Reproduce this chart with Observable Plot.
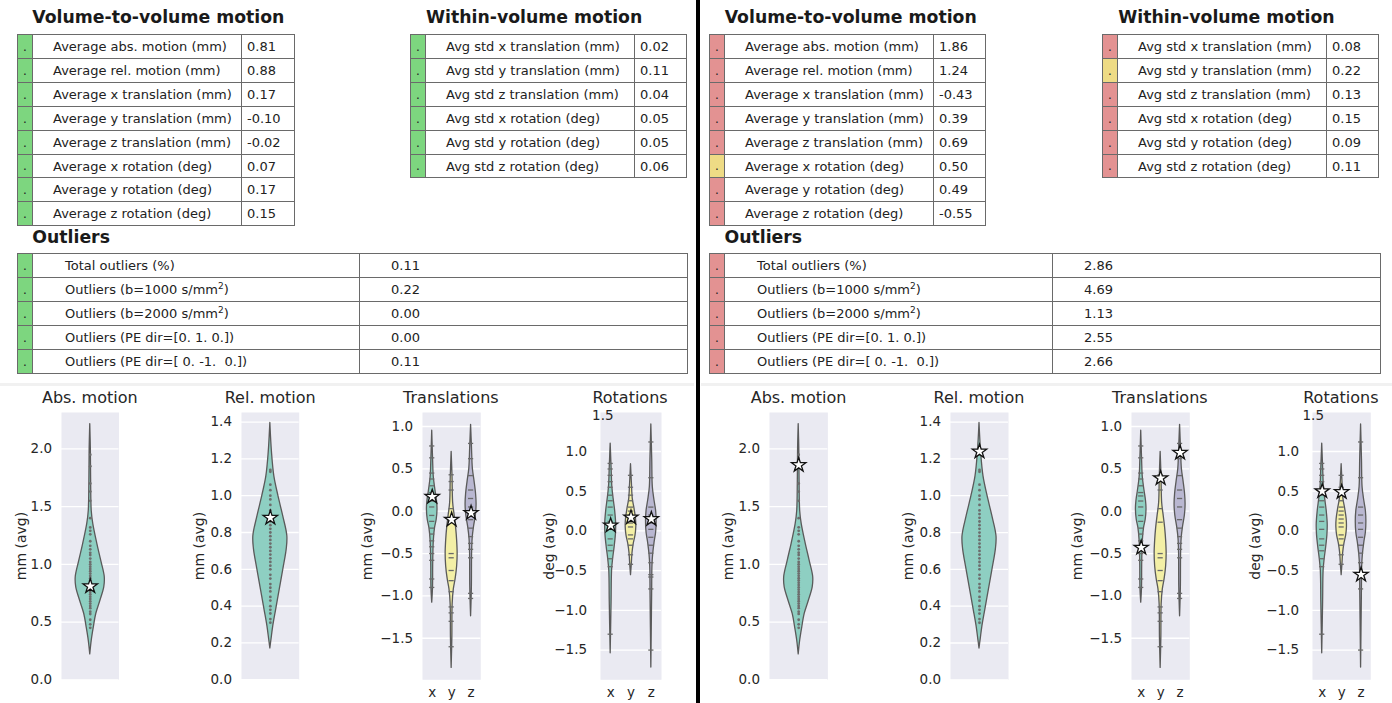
<!DOCTYPE html>
<html><head><meta charset="utf-8">
<script src="https://cdn.jsdelivr.net/npm/d3@7"></script>
<script src="https://cdn.jsdelivr.net/npm/@observablehq/plot@0.6"></script>
<style>
body{margin:0;background:#fff;font-family:"DejaVu Sans",sans-serif;color:#222}
#root{position:relative;width:1392px;height:703px;overflow:hidden;background:#fff}
.title{position:absolute;font-weight:bold;font-size:17.3px;line-height:20px;white-space:nowrap;color:#1a1a1a}
.cell{position:absolute;box-sizing:border-box;border:1px solid #6a6a6a;white-space:pre;display:flex;align-items:center;color:#222}
.cell sup{font-size:9px;vertical-align:5px;line-height:0}
.ptitle{position:absolute;font-size:16px;line-height:16px;transform:translate(-50%,-50%);white-space:nowrap;color:#262626}
.ylab{position:absolute;font-size:14px;line-height:16px;transform:translate(-50%,-50%) rotate(-90deg);white-space:nowrap;color:#262626}
.panel{position:absolute}
</style>
</head><body><div id="root"></div>
<script>
// ---------------- DATA ----------------
const volLabels = ["Average abs. motion (mm)","Average rel. motion (mm)","Average x translation (mm)","Average y translation (mm)","Average z translation (mm)","Average x rotation (deg)","Average y rotation (deg)","Average z rotation (deg)"];
const volLeft  = [0.81, 0.88, 0.17, -0.10, -0.02, 0.07, 0.17, 0.15];
const volRight = [1.86, 1.24, -0.43, 0.39, 0.69, 0.50, 0.49, -0.55];
const volFlagsLeft  = ["ok","ok","ok","ok","ok","ok","ok","ok"];
const volFlagsRight = ["bad","bad","bad","bad","bad","warn","bad","bad"];

const withinLabels = ["Avg std x translation (mm)","Avg std y translation (mm)","Avg std z translation (mm)","Avg std x rotation (deg)","Avg std y rotation (deg)","Avg std z rotation (deg)"];
const withinLeft  = [0.02, 0.11, 0.04, 0.05, 0.05, 0.06];
const withinRight = [0.08, 0.22, 0.13, 0.15, 0.09, 0.11];
const withinFlagsLeft  = ["ok","ok","ok","ok","ok","ok"];
const withinFlagsRight = ["bad","warn","bad","bad","bad","bad"];

const outlierLabels = ["Total outliers (%)","Outliers (b=1000 s/mm<sup>2</sup>)","Outliers (b=2000 s/mm<sup>2</sup>)","Outliers (PE dir=[0. 1. 0.])","Outliers (PE dir=[ 0. -1.  0.])"];
const outlierLeft  = [0.11, 0.22, 0.00, 0.00, 0.11];
const outlierRight = [2.86, 4.69, 1.13, 2.55, 2.66];
const outlierFlagsLeft  = ["ok","ok","ok","ok","ok"];
const outlierFlagsRight = ["bad","bad","bad","bad","bad"];

const axisCats = ["x","y","z"];

// violin density profiles: [value, half-width density]
const absProfile = [[2.215,0],[2.0,0.6],[1.7,0.9],[1.46,1.5],[1.35,3],[1.18,7],[1.03,11],[0.89,14.5],[0.80,14],[0.68,10],[0.57,6],[0.45,3.5],[0.34,1.5],[0.22,0]];
const relProfile = [[1.395,0],[1.23,1.7],[1.105,4],[1.0,8],[0.89,12.8],[0.78,17],[0.71,16.4],[0.60,13],[0.49,9.4],[0.38,5.8],[0.29,2.9],[0.22,1.2],[0.17,0]];
const transXProfile = [[0.95,0],[0.6,0.9],[0.4,1.6],[0.25,3.2],[0.12,4.8],[0.02,5.3],[-0.1,4.5],[-0.2,2.8],[-0.35,1.6],[-0.6,1],[-0.9,0.8],[-1.08,0]];
const transYProfile = [[0.70,0],[0.4,0.9],[0.1,1.5],[-0.05,3],[-0.2,4.5],[-0.35,5.5],[-0.5,6],[-0.65,5.5],[-0.8,4],[-0.92,2.2],[-1.1,1],[-1.5,0.7],[-1.85,0]];
const transZProfile = [[1.02,0],[0.75,0.9],[0.5,1.8],[0.35,3.5],[0.2,5],[0.08,5.5],[-0.05,4.8],[-0.18,3],[-0.32,1.6],[-0.5,1],[-0.9,0.8],[-1.24,0]];
const rotXProfile = [[1.1,0],[0.8,0.9],[0.55,1.7],[0.4,3],[0.25,4.5],[0.08,5.5],[-0.05,5.2],[-0.2,4],[-0.35,2.5],[-0.5,1.4],[-0.9,0.9],[-1.54,0]];
const rotYProfile = [[0.84,0],[0.6,0.9],[0.4,1.8],[0.28,3.5],[0.15,5],[0.05,5.3],[-0.06,4.5],[-0.16,2.8],[-0.28,1.5],[-0.42,0.8],[-0.556,0]];
const rotZProfile = [[1.34,0],[0.9,0.9],[0.55,1.5],[0.38,3.2],[0.25,4.8],[0.12,5.3],[-0.02,4.8],[-0.15,3.2],[-0.3,1.8],[-0.45,1.1],[-0.8,0.8],[-1.72,0]];

// group sample values visible inside violins
const absSamples = [0.45,0.48,0.52,0.57,0.59,0.62,0.64,0.66,0.68,0.70,0.72,0.74,0.76,0.78,0.80,0.82,0.84,0.86,0.88,0.90,0.92,0.94,0.96,0.98,1.00,1.02,1.05,1.08,1.10,1.13,1.16,1.20,1.26,1.29,1.32,1.40,1.55,1.63,1.70,1.85,1.95];
const relSamples = [0.31,0.33,0.36,0.38,0.40,0.43,0.45,0.48,0.50,0.52,0.55,0.57,0.60,0.62,0.64,0.66,0.68,0.70,0.72,0.74,0.76,0.78,0.80,0.82,0.84,0.86,0.88,0.90,0.92,0.95,0.98,1.00,1.03,1.06,1.13,1.14];
const transXSamples = [0.77,0.63,0.45,0.38,0.30,0.22,0.18,0.12,0.05,-0.05,-0.12,-0.20,-0.27,-0.35,-0.42,-0.50,-0.58,-0.80,-0.90];
const transYSamples = [0.43,0.35,0.25,0.03,-0.13,-0.50,-0.55,-0.70,-0.82,-0.95,-1.13,-1.20,-1.30,-1.60];
const transZSamples = [0.80,0.62,0.42,0.25,0.15,0.05,-0.10,-0.20,-0.30,-0.38,-0.45,-0.55,-0.97,-1.03];
const rotXSamples = [0.85,0.78,0.70,0.62,0.55,0.45,0.38,0.30,0.20,0.12,0.02,-0.10,-0.18,-0.25,-0.35,-0.45,-1.30];
const rotYSamples = [0.70,0.55,0.45,0.38,0.30,0.25,0.20,0.15,0.10,0.05,-0.05,-0.10,-0.18,-0.30,-0.42];
const rotZSamples = [1.12,0.67,0.30,0.20,0.10,0.02,-0.08,-0.18,-0.28,-0.40,-0.55,-0.58,-0.73,-1.50];

const absTicks = [0.0,0.5,1.0,1.5,2.0];
const relTicks = [0.0,0.2,0.4,0.6,0.8,1.0,1.2,1.4];
const transTicks = [-1.5,-1.0,-0.5,0.0,0.5,1.0];
const rotTicks = [-1.5,-1.0,-0.5,0.0,0.5,1.0];

// ---------------- STYLE / LAYOUT ----------------
const flagColor = {ok:"#7dd67f", bad:"#e39292", warn:"#eedb85"};
const cTeal = "#8ecfc2", cYellow = "#f3efa6", cLav = "#b9b7d1";
const root = document.getElementById("root");

function addDiv(cls, css, html){
  const d = document.createElement("div");
  d.className = cls; Object.assign(d.style, css); d.innerHTML = html; root.appendChild(d); return d;
}
function title(text, left, top){ addDiv("title", {left:left+"px", top:top+"px"}, text); }

function table({left, top, widths, rowH, labels, values, flags, labelPad, valuePad, fontSize}){
  labels.forEach((lab, r) => {
    const y = Math.round(top + r*rowH);
    const h = Math.round(top + (r+1)*rowH) - y;
    const fs = fontSize + "px";
    let x = left;
    addDiv("cell", {left:x+"px", top:y+"px", width:(widths[0]+1)+"px", height:(h+1)+"px", background:flagColor[flags[r]], justifyContent:"center", fontSize:"12px"}, "<span>.</span>");
    x += widths[0];
    addDiv("cell", {left:x+"px", top:y+"px", width:(widths[1]+1)+"px", height:(h+1)+"px", paddingLeft:labelPad+"px", fontSize:fs}, "<span>" + lab + "</span>");
    x += widths[1];
    addDiv("cell", {left:x+"px", top:y+"px", width:(widths[2]+1)+"px", height:(h+1)+"px", paddingLeft:valuePad+"px", fontSize:fs}, "<span>" + values[r].toFixed(2) + "</span>");
  });
}

// Left half tables
title("Volume-to-volume motion", 32.3, 6.5);
table({left:17, top:34, widths:[15,209,53], rowH:23.9, labels:volLabels, values:volLeft, flags:volFlagsLeft, labelPad:20, valuePad:5, fontSize:13});
title("Within-volume motion", 426, 6.5);
table({left:410, top:34, widths:[15,209,52], rowH:23.9, labels:withinLabels, values:withinLeft, flags:withinFlagsLeft, labelPad:20, valuePad:5, fontSize:13});
title("Outliers", 32.3, 226.5);
table({left:17, top:253, widths:[15,327,328], rowH:24, labels:outlierLabels, values:outlierLeft, flags:outlierFlagsLeft, labelPad:32, valuePad:31, fontSize:13});

// Right half tables
title("Volume-to-volume motion", 724.7, 6.5);
table({left:709, top:34, widths:[15,209,52], rowH:23.9, labels:volLabels, values:volRight, flags:volFlagsRight, labelPad:20, valuePad:5, fontSize:13});
title("Within-volume motion", 1118.3, 6.5);
table({left:1102, top:34, widths:[15,209,52], rowH:23.9, labels:withinLabels, values:withinRight, flags:withinFlagsRight, labelPad:20, valuePad:5, fontSize:13});
title("Outliers", 724.5, 226.5);
table({left:709, top:253, widths:[15,328,328], rowH:24, labels:outlierLabels, values:outlierRight, flags:outlierFlagsRight, labelPad:32, valuePad:31, fontSize:13});

// separators
addDiv("", {position:"absolute", left:"0px", top:"383px", width:"694px", height:"3px", background:"#f1f1f1"}, "");
addDiv("", {position:"absolute", left:"701px", top:"383px", width:"691px", height:"3px", background:"#f1f1f1"}, "");
addDiv("", {position:"absolute", left:"696px", top:"0px", width:"3.5px", height:"703px", background:"#000"}, "");

// ---------------- VIOLINS ----------------
const FMT = d3.format(".1f");
const bgTop = 411.7, bgBottom = 679, bgH = bgBottom - bgTop;
const ML = 60, MR = 16, MT = 12, MB = 28;

function violin(p){
  const n = p.cats.length;
  const band = p.bgW / n;
  const marks = [
    Plot.frame({fill:"#eaeaf2", stroke:"none"}),
    Plot.gridY(p.grid, {stroke:"#ffffff", strokeOpacity:1, strokeWidth:1.3}),
    Plot.axisY(p.grid, {tickSize:0, tickPadding:p.tickPad, tickFormat:FMT, fontSize:13.5, label:null})
  ];
  if (p.extraTick != null) {
    marks.push(Plot.text([p.extraTick], {y:d=>d, frameAnchor:"left", text:d=>FMT(d), textAnchor:"end", dx:p.extraDx, dy:3.5, fontSize:13.5, fill:"#262626"}));
  }
  if (n > 1) {
    marks.push(Plot.axisX(p.cats.map((c,i)=>i+0.5), {tickSize:0, tickPadding:8, tickFormat:d=>p.cats[Math.round(d-0.5)], fontSize:13.5, label:null}));
  }
  p.profiles.forEach((prof, i) => {
    marks.push(Plot.areaX(prof, {y:d=>d[0], x1:d=>i+0.5-d[1]/band, x2:d=>i+0.5+d[1]/band, fill:p.colors[i], stroke:"#5a5a5a", strokeWidth:1.3, curve:"catmull-rom"}));
  });
  p.samples.forEach((s, i) => {
    if (n > 1) {
      marks.push(Plot.ruleY(s, {y:d=>d, x1:i+0.5-2.6/band, x2:i+0.5+2.6/band, stroke:"#6a6a6a", strokeWidth:1.3}));
    } else {
      marks.push(Plot.dot(s, {x:()=>i+0.5, y:d=>d, r:1.4, fill:"#6d6d6d", stroke:"none"}));
    }
  });
  marks.push(Plot.dot(p.stars.map((v,i)=>({i, v})), {x:d=>d.i+0.5, y:"v", symbol:"star", r:4.5, fill:"white", stroke:"#111", strokeWidth:1.3}));
  const svg = Plot.plot({
    width: ML + p.bgW + MR, height: MT + bgH + MB,
    marginLeft: ML, marginRight: MR, marginTop: MT, marginBottom: MB,
    x: {domain:[0, n], axis:null},
    y: {domain:p.yDomain, axis:null},
    style: {background:"transparent", fontFamily:"DejaVu Sans", color:"#262626", overflow:"visible"},
    marks
  });
  const wrap = addDiv("panel", {left:(p.bgLeft-ML)+"px", top:(bgTop-MT)+"px"}, "");
  wrap.appendChild(svg);
  addDiv("ptitle", {left:(p.bgLeft+p.bgW/2)+"px", top:"398px"}, p.title);
  addDiv("ylab", {left:p.yLabX+"px", top:"546px"}, p.yLabel);
}

function half(vals, geo){
  violin({title:"Abs. motion", yLabel:"mm (avg)", yLabX:geo.yl[0], bgLeft:geo.bl[0], bgW:geo.bw[0], cats:["abs"], colors:[cTeal], profiles:[absProfile], samples:[absSamples], stars:[vals[0]], yDomain:[0, 2.315], grid:absTicks, tickPad:9.5});
  violin({title:"Rel. motion", yLabel:"mm (avg)", yLabX:geo.yl[1], bgLeft:geo.bl[1], bgW:geo.bw[1], cats:["rel"], colors:[cTeal], profiles:[relProfile], samples:[relSamples], stars:[vals[1]], yDomain:[0, 1.452], grid:relTicks, tickPad:9.5});
  violin({title:"Translations", yLabel:"mm (avg)", yLabX:geo.yl[2], bgLeft:geo.bl[2], bgW:geo.bw[2], cats:axisCats, colors:[cTeal,cYellow,cLav], profiles:[transXProfile,transYProfile,transZProfile], samples:[transXSamples,transYSamples,transZSamples], stars:vals.slice(2,5), yDomain:[-1.99, 1.165], grid:transTicks, tickPad:9.5});
  violin({title:"Rotations", yLabel:"deg (avg)", yLabX:geo.yl[3], bgLeft:geo.bl[3], bgW:geo.bw[3], cats:axisCats, colors:[cTeal,cYellow,cLav], profiles:[rotXProfile,rotYProfile,rotZProfile], samples:[rotXSamples,rotYSamples,rotZSamples], stars:vals.slice(5,8), yDomain:[-1.874, 1.491], grid:rotTicks, tickPad:13.5, extraTick:1.5, extraDx:geo.extraDx});
}

half(volLeft,  {bl:[61, 241.3, 421.7, 599.5], bw:[57.5, 57.7, 58.3, 61], yl:[20.7, 199.3, 366.7, 549.3], extraDx:13});
half(volRight, {bl:[769.3, 950, 1130.7, 1311.7], bw:[58.4, 58, 58.3, 58.3], yl:[728.3, 908.3, 1077.3, 1255], extraDx:11.5});
</script>
</body></html>
